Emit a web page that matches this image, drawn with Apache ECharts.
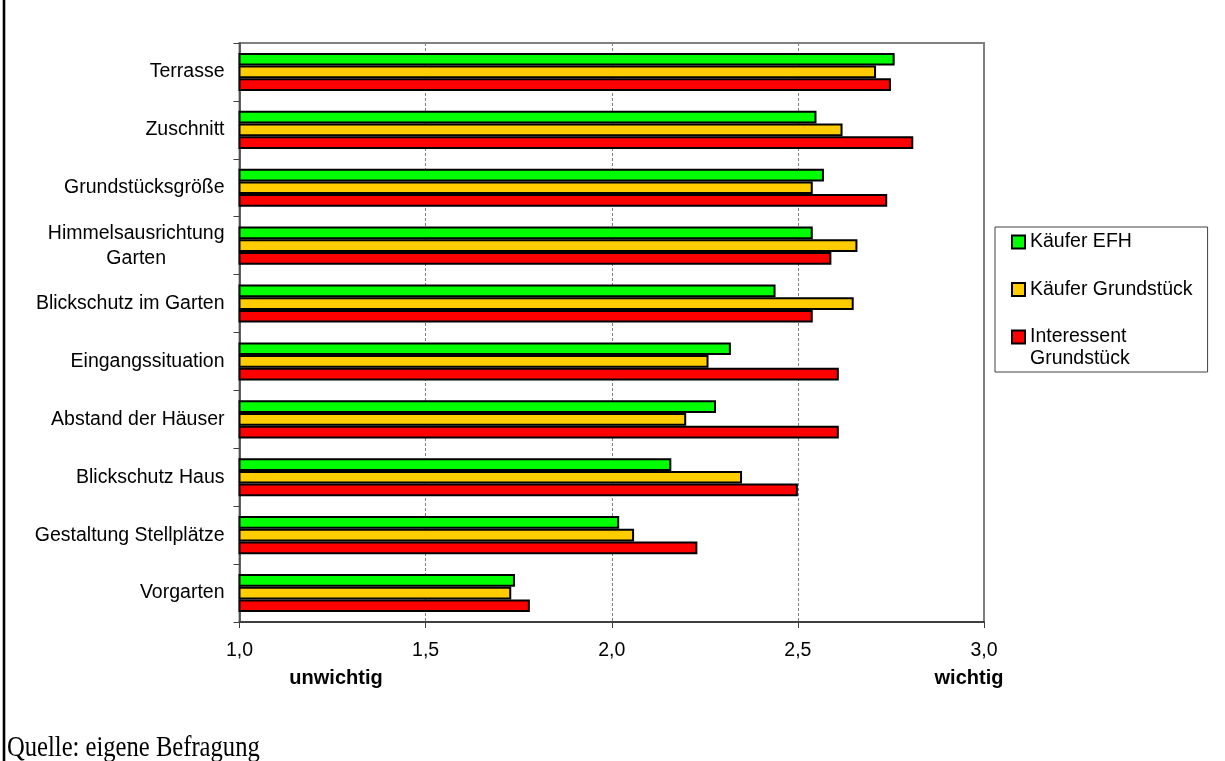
<!DOCTYPE html>
<html>
<head>
<meta charset="utf-8">
<script src="https://cdn.jsdelivr.net/npm/echarts@6/dist/echarts.min.js"></script>
<style>
  html, body { margin: 0; padding: 0; background: #fff; }
  #chart { width: 1225px; height: 761px; }
</style>
</head>
<body>
<div id="chart"></div>
<script>
// categories, top to bottom
const categories = [
  "Terrasse",
  "Zuschnitt",
  "Grundstücksgröße",
  "Himmelsausrichtung\nGarten",
  "Blickschutz im Garten",
  "Eingangssituation",
  "Abstand der Häuser",
  "Blickschutz Haus",
  "Gestaltung Stellplätze",
  "Vorgarten"
];

// mean rating per group (1 = unwichtig, 3 = wichtig)
const kaeuferEFH = [2.76, 2.55, 2.57, 2.54, 2.44, 2.32, 2.28, 2.16, 2.02, 1.74];
const kaeuferGrundstueck = [2.71, 2.62, 2.54, 2.66, 2.65, 2.26, 2.20, 2.35, 2.06, 1.73];
const interessentGrundstueck = [2.75, 2.81, 2.74, 2.59, 2.54, 2.61, 2.61, 2.50, 2.23, 1.78];

const seriesNames = ["Käufer EFH", "Käufer Grundstück", "Interessent Grundstück"];
const seriesColors = ["#00ff00", "#ffcc00", "#ff0000"];

const sans = "'Liberation Sans', Arial, sans-serif";

const myChart = echarts.init(document.getElementById("chart"));

function barSeries(name, color, data) {
  return {
    name: name,
    type: "bar",
    barWidth: 12.7,
    barGap: "0%",
    itemStyle: { color: color, borderColor: "#000", borderWidth: 2 },
    data: data
  };
}

const option = {
  animation: false,
  backgroundColor: "#fff",
  grid: {
    left: 239.5,
    right: 241,
    top: 43,
    bottom: 139,
    show: true,
    borderColor: "#808080",
    borderWidth: 2
  },
  xAxis: {
    type: "value",
    min: 1,
    max: 3,
    interval: 0.5,
    axisLine: { show: true, lineStyle: { color: "#404040", width: 2 } },
    axisTick: { show: true, length: 6, lineStyle: { color: "#404040", width: 1 } },
    axisLabel: {
      margin: 19,
      fontFamily: sans,
      fontSize: 19.5,
      color: "#000",
      formatter: v => v.toFixed(1).replace(".", ",")
    },
    splitLine: { show: true, lineStyle: { color: "#808080", type: [3, 2], width: 1 } }
  },
  yAxis: {
    type: "category",
    inverse: true,
    data: categories,
    axisLine: { show: true, lineStyle: { color: "#404040", width: 1.5 } },
    axisTick: { show: true, length: 6, lineStyle: { color: "#404040" } },
    axisLabel: {
      margin: 15,
      fontFamily: sans,
      fontSize: 19.5,
      lineHeight: 25,
      color: "#000",
      // two-line label is centred line by line
      formatter: v => (v.indexOf("\n") >= 0 ? v.split("\n").map(s => "{c|" + s + "}").join("\n") : v),
      rich: {
        c: { align: "center", fontFamily: sans, fontSize: 19.5, lineHeight: 25, color: "#000" }
      }
    }
  },
  legend: {
    orient: "vertical",
    left: 995,
    top: 227,
    padding: [3.5, 15, 23.5, 16],
    itemGap: 24.5,
    itemWidth: 13,
    itemHeight: 13,
    icon: "rect",
    borderColor: "#404040",
    borderWidth: 1,
    data: seriesNames,
    formatter: name => (name === "Interessent Grundstück" ? "Interessent" : name),
    textStyle: { fontFamily: sans, fontSize: 19.5, lineHeight: 23, color: "#000" }
  },
  graphic: [
    // frame on the left side of the figure
    { type: "rect", left: 2.7, top: 0, shape: { width: 2.6, height: 761 }, style: { fill: "#000" } },
    // second line of the last legend entry
    {
      type: "text", left: 1030, top: 349,
      style: { text: "Grundstück", font: "19.5px " + sans, fill: "#000" }
    },
    {
      type: "text", x: 336, y: 678,
      style: { text: "unwichtig", font: "bold 20px " + sans, fill: "#000", align: "center", verticalAlign: "middle" }
    },
    {
      type: "text", x: 969, y: 678,
      style: { text: "wichtig", font: "bold 20px " + sans, fill: "#000", align: "center", verticalAlign: "middle" }
    },
    {
      type: "text", x: 7, y: 748, scaleX: 0.82,
      style: { text: "Quelle: eigene Befragung", font: "30px 'Liberation Serif', 'Times New Roman', serif", fill: "#000", verticalAlign: "middle" }
    }
  ],
  series: [
    barSeries(seriesNames[0], seriesColors[0], kaeuferEFH),
    barSeries(seriesNames[1], seriesColors[1], kaeuferGrundstueck),
    barSeries(seriesNames[2], seriesColors[2], interessentGrundstueck)
  ]
};

myChart.setOption(option);
</script>
</body>
</html>
